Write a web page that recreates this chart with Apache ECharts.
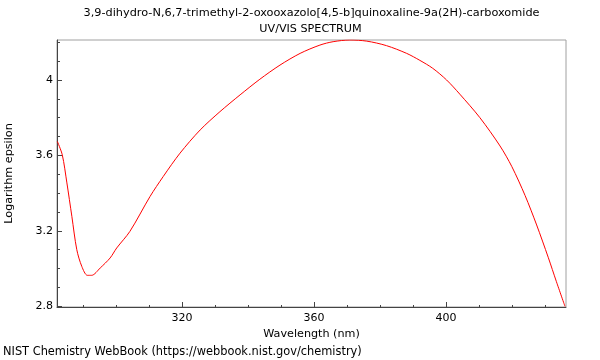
<!DOCTYPE html>
<html><head><meta charset="utf-8">
<script src="https://cdn.jsdelivr.net/npm/echarts@6/dist/echarts.min.js"></script>
<style>html,body{margin:0;padding:0;background:#fff}#c{width:600px;height:360px}</style>
</head><body><div id="c"></div>
<script>
var titleLine1 = "3,9-dihydro-N,6,7-trimethyl-2-oxooxazolo[4,5-b]quinoxaline-9a(2H)-carboxomide";
var titleLine2 = "UV/VIS SPECTRUM";
var xAxisName = "Wavelength (nm)";
var yAxisName = "Logarithm epsilon";
var footer = "NIST Chemistry WebBook (https://webbook.nist.gov/chemistry)";
var wavelengths = [282.2,283.7,285.1,286.6,288.1,289.6,291.3,292.6,295.2,298.2,300.2,304.2,310.3,314.3,319.4,325.5,331.5,337.6,343.6,349.7,355.8,361.8,365.8,370.9,376.0,382.0,388.1,392.1,396.0,400.2,404.2,410.3,416.4,420.0,424.0,427.5,431.0,433.5,436.1];
var logEps = [3.674,3.603,3.454,3.277,3.100,3.012,2.964,2.964,3.003,3.056,3.109,3.197,3.382,3.488,3.612,3.735,3.832,3.921,4.004,4.079,4.141,4.185,4.203,4.212,4.206,4.182,4.141,4.104,4.062,4.000,3.925,3.800,3.650,3.540,3.387,3.231,3.060,2.930,2.799];
var xMajorTicks = [320,360,400];
var xMinorTicks = [290,300,310,320,330,340,350,360,370,380,390,400,410,420,430];
var yMajorTicks = [2.8,3.2,3.6,4.0];
var yMinorTicks = [2.8,2.9,3.0,3.1,3.2,3.3,3.4,3.5,3.6,3.7,3.8,3.9,4.0,4.1,4.2];
var xMin = 282.1, xMax = 436.4, yMin = 2.796, yMax = 4.212;

var data = wavelengths.map(function(w,i){return [w, logEps[i]];});
var font = "DejaVu Sans";
var chart = echarts.init(document.getElementById('c'), null, {renderer:'canvas'});
chart.setOption({
  animation:false,
  grid:{left:57, top:40, right:34, bottom:53, containLabel:false, outerBoundsMode:'none', show:true, borderColor:'#a0a0a0', borderWidth:1, backgroundColor:'transparent'},
  graphic:[
    {type:'text', x:0, y:0, style:{text:titleLine1, x:311.5, y:13.2, align:'center', verticalAlign:'middle', font:'11.3px "DejaVu Sans"', fill:'#000'}},
    {type:'text', x:0, y:0, style:{text:titleLine2, x:310.5, y:29.4, align:'center', verticalAlign:'middle', font:'11.2px "DejaVu Sans"', fill:'#000'}},
    {type:'text', x:0, y:0, style:{text:footer, x:3, y:352.5, align:'left', verticalAlign:'middle', font:'11.4px "DejaVu Sans"', fill:'#000'}}
  ],
  xAxis:[
    {type:'value', min:xMin, max:xMax, position:'bottom',
     name:xAxisName, nameLocation:'middle', nameGap:21, nameTextStyle:{fontFamily:font, fontSize:11.2, color:'#000'},
     axisLine:{show:true, lineStyle:{color:'#444', width:1}},
     axisTick:{show:true, inside:true, length:5, customValues:xMajorTicks, lineStyle:{color:'#444'}},
     axisLabel:{show:true, customValues:xMajorTicks, fontFamily:font, fontSize:11, color:'#000', margin:6},
     splitLine:{show:false}},
    {type:'value', min:xMin, max:xMax, position:'bottom',
     axisLine:{show:false},
     axisTick:{show:true, inside:true, length:2, customValues:xMinorTicks, lineStyle:{color:'#444'}},
     axisLabel:{show:false}, splitLine:{show:false}}
  ],
  yAxis:[
    {type:'value', min:yMin, max:yMax, position:'left',
     name:yAxisName, nameLocation:'middle', nameGap:42, nameTextStyle:{fontFamily:font, fontSize:11.2, color:'#000'},
     axisLine:{show:true, lineStyle:{color:'#444', width:1}},
     axisTick:{show:true, inside:true, length:5, customValues:yMajorTicks, lineStyle:{color:'#444'}},
     axisLabel:{show:true, customValues:yMajorTicks, fontFamily:font, fontSize:11, color:'#000', margin:4,
       formatter:function(v){return (Math.round(v*10)/10).toString();}},
     splitLine:{show:false}},
    {type:'value', min:yMin, max:yMax, position:'left',
     axisLine:{show:false},
     axisTick:{show:true, inside:true, length:3, customValues:yMinorTicks, lineStyle:{color:'#444'}},
     axisLabel:{show:false}, splitLine:{show:false}}
  ],
  series:[{type:'line', xAxisIndex:0, yAxisIndex:0, data:data, smooth:0.3, showSymbol:false, symbol:'none',
    lineStyle:{color:'#ff0000', width:1}, clip:true}]
});
</script></body></html>
